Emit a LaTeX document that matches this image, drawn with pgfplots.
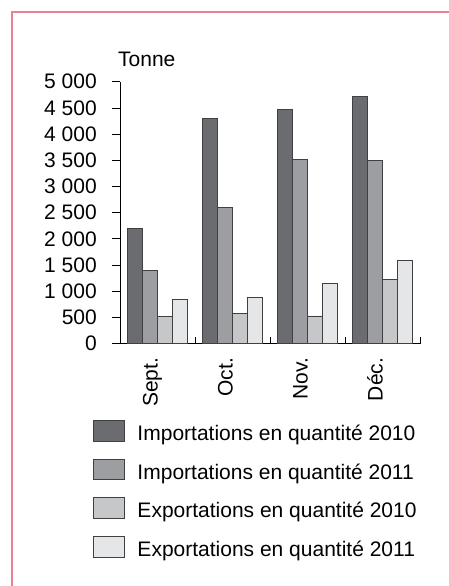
\documentclass[border=0pt]{standalone}
\usepackage{pgfplots}
\pgfplotsset{compat=1.18}
\usepackage{fontspec}
\setmainfont{Liberation Sans}
\newcommand\chartfont{\fontsize{21}{25}\selectfont}
\definecolor{imp10}{RGB}{107,108,112}
\definecolor{imp11}{RGB}{157,158,162}
\definecolor{exp10}{RGB}{198,199,201}
\definecolor{exp11}{RGB}{229,230,232}
\definecolor{baredge}{RGB}{64,64,66}
\definecolor{framepink}{RGB}{234,128,144}

\begin{document}
\begin{tikzpicture}[x=1pt,y=1pt]
\begin{axis}[
  at={(120pt,242.3pt)}, anchor=south west,
  width=300pt, height=262pt, scale only axis,
  xmin=0, xmax=4, ymin=0, ymax=5000,
  clip=false,
  axis lines*=left,
  axis line style={line width=0.8pt, black},
  ybar=0pt, bar width=15pt,
  ytick={0,500,...,5000},
  xtick={0.5,1.5,2.5,3.5},
  xticklabels={Sept.,Oct.,Nov.,Déc.},
  minor xtick={0,1,2,3,4},
  tick align=outside,
  major tick length=8pt, minor tick length=6.5pt,
  tick style={black, line width=0.8pt},
  major x tick style={draw=none},
  minor x tick style={yshift=6.5pt},
  scaled y ticks=false,
  /pgf/number format/fixed,
  /pgf/number format/1000 sep={\ },
  /pgf/number format/assume math mode=true,
  tick label style={font=\chartfont},
  yticklabel style={inner sep=0pt, anchor=east, xshift=-15pt},
  xticklabel style={inner sep=0pt, rotate=90, anchor=base east, xshift=1pt},
  xticklabel shift=7pt,
  mybar/.style={fill=#1, draw=baredge, line width=0.8pt,
    legend image code/.code={\draw[fill=#1,draw=baredge,line width=0.8pt] (0pt,-0.7pt) rectangle (31pt,20pt);}},
  legend cell align=left,
  legend style={at={(axis description cs:-0.089,-0.2912)}, anchor=north west,
    draw=none, fill=none, inner sep=0pt, outer sep=0pt,
    row sep=13.3pt, column sep=12.4pt, font=\chartfont,
    nodes={inner sep=0pt, text height=15pt, text depth=5pt, anchor=base west}},
]
\addplot[mybar=imp10] coordinates {(0.5,2200) (1.5,4300) (2.5,4470) (3.5,4720)};
\addplot[mybar=imp11] coordinates {(0.5,1390) (1.5,2600) (2.5,3520) (3.5,3490)};
\addplot[mybar=exp10] coordinates {(0.5,520) (1.5,580) (2.5,530) (3.5,1230)};
\addplot[mybar=exp11] coordinates {(0.5,850) (1.5,880) (2.5,1150) (3.5,1590)};
\legend{Importations en quantité 2010,Importations en quantité 2011,Exportations en quantité 2010,Exportations en quantité 2011}
\node[anchor=base west, inner sep=0pt, font=\chartfont] at (axis description cs:-0.0067,1.0599) {Tonne};
\end{axis}
\pgfresetboundingbox
\useasboundingbox (0,0) rectangle (449,586);
\draw[framepink, line width=2pt] (12,0) -- (12,574) -- (449,574);
\end{tikzpicture}
\end{document}
